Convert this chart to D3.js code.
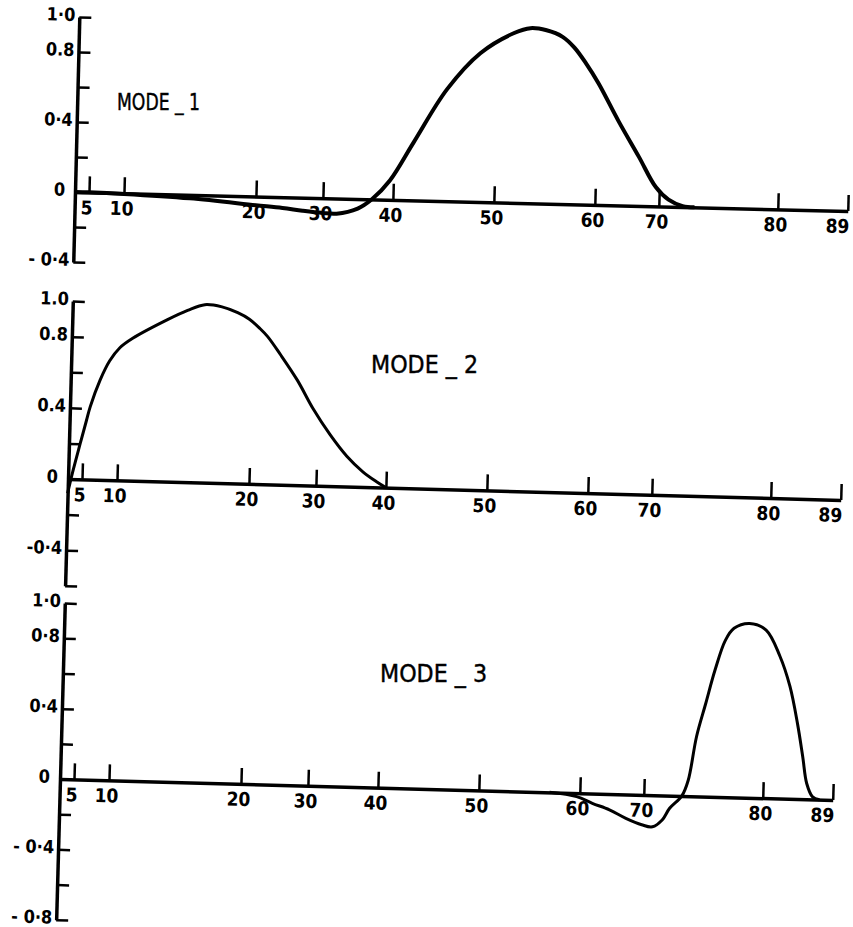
<!DOCTYPE html>
<html>
<head>
<meta charset="utf-8">
<script src="https://cdn.jsdelivr.net/npm/d3@7"></script>
<style>
  body { margin: 0; background: #fff; }
  svg { display: block; }
</style>
</head>
<body>
<div id="wrapper"></div>
<script>
// station numbers marked on the horizontal axis
const stationTicks = [5, 10, 20, 30, 40, 50, 60, 70, 80, 89];

// mode shapes (station, amplitude)
const mode1Station = [3, 5, 10, 15, 20, 24, 27, 30, 32, 35, 37, 39.5, 41.9, 45.1, 48.3, 51.6, 53.2, 54.8, 56.4, 57.6, 58.8, 60.1, 63.4, 66.7, 69.45, 70.8, 72, 73];
const mode1Value   = [0, 0, -0.004, -0.02, -0.05, -0.062, -0.075, -0.085, -0.087, -0.055, 0, 0.11, 0.33, 0.64, 0.85, 0.97, 1.0, 0.99, 0.955, 0.895, 0.805, 0.695, 0.48, 0.28, 0.11, 0.04, 0.005, 0];

const mode2Station = [3, 3.7, 4.6, 5.4, 5.9, 7.2, 8.5, 9.9, 10.9, 13.5, 15.0, 16.3, 17.6, 18.8, 19.7, 21.0, 22.2, 24.2, 26.8, 29.3, 31.8, 34.3, 36.65, 38.7, 40];
const mode2Value   = [-0.08, 0.05, 0.2, 0.33, 0.41, 0.56, 0.67, 0.745, 0.8, 0.91, 0.965, 1.0, 0.99, 0.96, 0.925, 0.875, 0.83, 0.73, 0.59, 0.43, 0.29, 0.17, 0.085, 0.03, 0];

const mode3Station = [57, 59.7, 62, 64.7, 67.3, 69.8, 70.8, 71.6, 72.2, 73.2, 73.7, 74.3, 75.0, 75.7, 76.5, 77.2, 78.5, 79.9, 81.7, 83.1, 84.2, 85.0, 85.6, 86.4, 87.3];
const mode3Value   = [0, -0.02, -0.056, -0.09, -0.136, -0.17, -0.18, -0.14, -0.072, 0, 0.09, 0.34, 0.53, 0.72, 0.89, 0.96, 0.99, 0.955, 0.81, 0.64, 0.43, 0.24, 0.09, 0.015, 0];

// labelled amplitude ticks, as printed
const mode1YTicks = [1.0, 0.8, 0.4, 0, -0.4];
const mode1YLabels = ['1·0', '0.8', '0·4', '0', '- 0·4'];
const mode2YTicks = [1.0, 0.8, 0.4, 0, -0.4];
const mode2YLabels = ['1.0', '0.8', '0.4', '0', '-0·4'];
const mode3YTicks = [1.0, 0.8, 0.4, 0, -0.4, -0.8];
const mode3YLabels = ['1·0', '0·8', '0·4', '0', '- 0·4', '- 0·8'];

const modeTitles = ['MODE _ 1', 'MODE _ 2', 'MODE _ 3'];

const width = 853;
const height = 927;

// tick offsets along the (non uniform) station axis, px from the origin
const tickOffsets = [14, 49, 181, 248, 318, 419, 520, 584, 703, 773];

const panels = [
  { origin: [75, 192], angle: 1.41, unit: 175, yMin: -0.4, stroke: 4,
    station: mode1Station, value: mode1Value, yTicks: mode1YTicks, yLabels: mode1YLabels,
    title: modeTitles[0], titlePos: [117, 110], titleSize: 23, titleWidth: 83 },
  { origin: [68, 479], angle: 1.55, unit: 178, yMin: -0.6, stroke: 3,
    station: mode2Station, value: mode2Value, yTicks: mode2YTicks, yLabels: mode2YLabels,
    title: modeTitles[1], titlePos: [371, 373], titleSize: 25, titleWidth: 107 },
  { origin: [60, 779], angle: 1.56, unit: 176, yMin: -0.8, stroke: 3,
    station: mode3Station, value: mode3Value, yTicks: mode3YTicks, yLabels: mode3YLabels,
    title: modeTitles[2], titlePos: [380, 682], titleSize: 25, titleWidth: 107 },
];

const svg = d3.select('#wrapper')
  .append('svg')
  .attr('width', width)
  .attr('height', height);

const tickFont = '"DejaVu Sans Condensed", "DejaVu Sans", sans-serif';

panels.forEach((p) => {
  const xScale = d3.scaleLinear()
    .domain([3, ...stationTicks])
    .range([0, ...tickOffsets]);

  const yScale = d3.scaleLinear()
    .domain([p.yMin, 1])
    .range([-p.yMin * p.unit, -p.unit]);

  // the scan is slightly tilted, so each panel is turned a little
  const g = svg.append('g')
    .attr('transform', `translate(${p.origin[0]},${p.origin[1]}) rotate(${p.angle})`);

  // amplitude axis, a tick every 0.2
  const minorTicks = d3.range(Math.round(p.yMin * 5), 6).map((k) => k / 5);
  const yAxis = g.append('g')
    .call(d3.axisRight(yScale)
      .tickValues(minorTicks)
      .tickSize(12)
      .tickSizeOuter(0)
      .tickFormat(''));
  yAxis.select('.domain').attr('stroke', '#000').attr('stroke-width', 3.5);
  yAxis.selectAll('.tick line').attr('stroke', '#000').attr('stroke-width', 2.5);

  g.append('g')
    .selectAll('text')
    .data(p.yTicks)
    .join('text')
    .attr('x', (d) => (d === 0 ? -10 : -4))
    .attr('y', (d) => yScale(d) + 4)
    .attr('text-anchor', 'end')
    .style('font-family', tickFont)
    .style('font-weight', 'bold')
    .style('font-size', '18px')
    .text((d, i) => p.yLabels[i]);

  // station axis
  const xAxis = g.append('g')
    .call(d3.axisTop(xScale)
      .tickValues(stationTicks)
      .tickSize(16)
      .tickSizeOuter(0)
      .tickFormat(''));
  xAxis.select('.domain').attr('stroke', '#000').attr('stroke-width', 3.5);
  xAxis.selectAll('.tick line').attr('stroke', '#000').attr('stroke-width', 2.5);

  g.append('g')
    .selectAll('text')
    .data(stationTicks)
    .join('text')
    .attr('x', (d, i) => (i === stationTicks.length - 1 ? xScale(d) + 2 : xScale(d) - 2))
    .attr('y', 22)
    .attr('text-anchor', (d, i) => (i === stationTicks.length - 1 ? 'end' : 'middle'))
    .style('font-family', tickFont)
    .style('font-weight', 'bold')
    .style('font-size', '19px')
    .text((d) => d);

  // mode shape
  const points = p.station.map((s, i) => [s, p.value[i]]);
  const line = d3.line()
    .x((d) => xScale(d[0]))
    .y((d) => yScale(d[1]))
    .curve(d3.curveCatmullRom.alpha(0.5));

  g.append('path')
    .datum(points)
    .attr('d', line)
    .attr('fill', 'none')
    .attr('stroke', '#000')
    .attr('stroke-width', p.stroke)
    .attr('stroke-linejoin', 'round');

  svg.append('text')
    .attr('x', p.titlePos[0])
    .attr('y', p.titlePos[1])
    .attr('textLength', p.titleWidth)
    .attr('lengthAdjust', 'spacingAndGlyphs')
    .style('font-family', '"DejaVu Sans Condensed", "DejaVu Sans", sans-serif')
    .style('font-size', `${p.titleSize}px`)
    .style('fill', '#000')
    .style('stroke', '#000')
    .style('stroke-width', 0.4)
    .text(p.title);
});
</script>
</body>
</html>
